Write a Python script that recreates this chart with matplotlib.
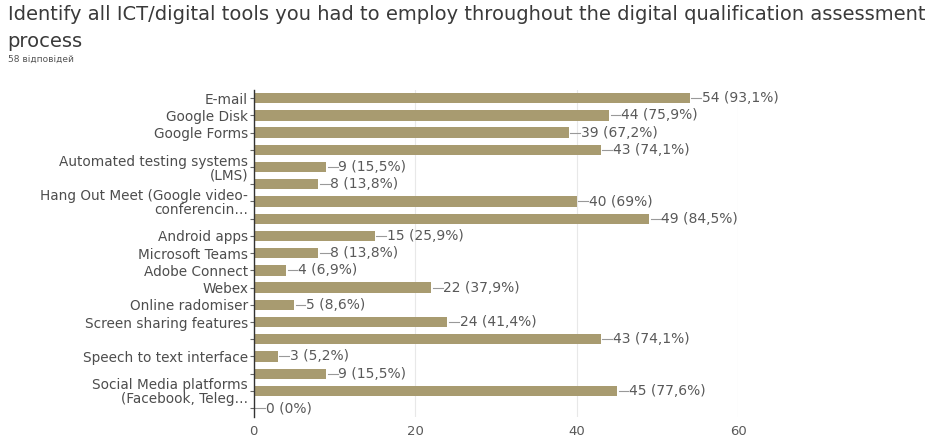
import matplotlib.pyplot as plt

# Data
labels = ["E-mail", "Google Disk", "Google Forms", "",
          "Automated testing systems\n(LMS)", "",
          "Hang Out Meet (Google video-\nconferencin…", "",
          "Android apps", "Microsoft Teams", "Adobe Connect", "Webex",
          "Online radomiser", "Screen sharing features", "",
          "Speech to text interface", "",
          "Social Media platforms\n(Facebook, Teleg…", ""]
counts = [54, 44, 39, 43, 9, 8, 40, 49, 15, 8, 4, 22, 5, 24, 43, 3, 9, 45, 0]
pcts = ["93,1%", "75,9%", "67,2%", "74,1%", "15,5%", "13,8%", "69%", "84,5%",
        "25,9%", "13,8%", "6,9%", "37,9%", "8,6%", "41,4%", "74,1%", "5,2%",
        "15,5%", "77,6%", "0%"]
total_resp = 58

plt.rcParams['font.family'] = ['DejaVu Sans']

fig = plt.figure(figsize=(9.5, 4.41), dpi=100)
ax = fig.add_axes([0.267, 0.055, 0.51, 0.742])

ypos = list(range(len(counts)))
ax.barh(ypos, counts, height=0.6, color='#a89b70', zorder=2)

# value labels with small leader line
for y, c, p in zip(ypos, counts, pcts):
    ax.plot([c + 0.2, c + 1.4], [y, y], color='#999999', lw=0.8, zorder=3)
    ax.text(c + 1.5, y, f"{c} ({p})", va='center', ha='left',
            fontsize=10, color='#595959')

ax.set_ylim(len(counts) - 0.5, -0.5)
ax.set_xlim(0, 60)
ax.set_xticks([0, 20, 40, 60])
ax.set_yticks(ypos)
ax.set_yticklabels(labels, fontsize=9.8, color='#4d4d4d', linespacing=1.0)
ax.tick_params(axis='y', length=3, color='#666666', pad=1)
ax.tick_params(axis='x', length=0, labelsize=9.5, labelcolor='#595959', pad=6)
ax.grid(axis='x', color='#e8e8e8', lw=0.8, zorder=0)
for s in ['top', 'right', 'bottom']:
    ax.spines[s].set_visible(False)
ax.spines['left'].set_color('#333333')
ax.spines['left'].set_linewidth(1.0)
ax.spines['left'].set_zorder(4)

fig.text(0.008, 0.968, "Identify all ICT/digital tools you had to employ throughout the digital qualification assessment",
         fontsize=14, color='#3a3a3a', va='center', ha='left')
fig.text(0.008, 0.905, "process", fontsize=14, color='#3a3a3a', va='center', ha='left')
fig.text(0.008, 0.866, f"{total_resp} відповідей", fontsize=6.5, color='#555555', va='center', ha='left')

fig.savefig('out.png', dpi=100)
